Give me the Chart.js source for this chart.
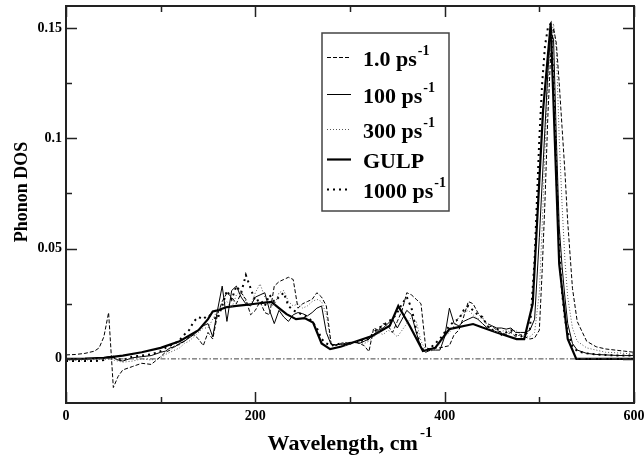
<!DOCTYPE html>
<html>
<head>
<meta charset="utf-8">
<title>Phonon DOS</title>
<script src="https://cdn.jsdelivr.net/npm/chart.js@4.4.1/dist/chart.umd.min.js"></script>
<style>
  html, body { margin: 0; padding: 0; background: #fff; overflow: hidden; }
  #wrap { position: relative; width: 644px; height: 455px; }
</style>
</head>
<body>
<div id="wrap"><canvas id="dosChart"></canvas></div>
<script>
// x positions (cm^-1) shared by the four thermostat curves
const wavenumber = [
  0, 10, 20, 30, 35, 40, 45, 50, 55, 60, 70, 80, 90,
  100, 105, 110, 115, 120, 125, 130, 135, 140, 145,
  150, 155, 160, 165, 170, 175, 180, 185, 190, 195,
  200, 205, 210, 215, 220, 225, 230, 235, 240, 245,
  250, 255, 260, 265, 270, 275, 280, 285, 290, 295,
  300, 305, 310, 315, 320, 325, 330, 335, 340, 345,
  350, 355, 360, 365, 370, 375, 380, 385, 390, 395,
  400, 405, 410, 415, 420, 425, 430, 435, 440, 445,
  450, 455, 460, 465, 470, 475, 480, 485, 490, 495,
  500, 503, 506, 509, 512, 515, 518, 521, 524, 527,
  530, 535, 540, 550, 560, 570, 580, 590, 600
];

// 1.0 ps^-1
const dos1 = [
  0.0018, 0.0020, 0.0025, 0.0035, 0.0050, 0.0100, 0.0210, -0.0130, -0.0080, -0.0050, -0.0035, -0.0020, -0.0025,
  0.0010, 0.0030, 0.0040, 0.0060, 0.0065, 0.0080, 0.0100, 0.0110, 0.0090, 0.0060,
  0.0120, 0.0090, 0.0200, 0.0260, 0.0300, 0.0280, 0.0250, 0.0300, 0.0270, 0.0200,
  0.0220, 0.0260, 0.0210, 0.0200, 0.0330, 0.0350, 0.0360, 0.0370, 0.0360, 0.0230,
  0.0250, 0.0260, 0.0270, 0.0300, 0.0280, 0.0240, 0.0070, 0.0060, 0.0070, 0.0075,
  0.0065, 0.0080, 0.0070, 0.0060, 0.0033, 0.0140, 0.0130, 0.0160, 0.0150, 0.0120,
  0.0170, 0.0220, 0.0300, 0.0290, 0.0270, 0.0250, 0.0050, 0.0045, 0.0050, 0.0050,
  0.0055, 0.0060, 0.0110, 0.0130, 0.0190, 0.0260, 0.0250, 0.0210, 0.0180, 0.0160,
  0.0150, 0.0130, 0.0120, 0.0110, 0.0120, 0.0100, 0.0110, 0.0100, 0.0090, 0.0095,
  0.0130, 0.0400, 0.0720, 0.1100, 0.1380, 0.1500, 0.1430, 0.1250, 0.1050, 0.0850,
  0.0620, 0.0320, 0.0170, 0.0080, 0.0055, 0.0045, 0.0040, 0.0035, 0.0030
];

// 100 ps^-1
const dos100 = [
  0.0000, 0.0000, 0.0000, 0.0002, 0.0003, 0.0005, 0.0010, 0.0005, -0.0005, -0.0010, 0.0005, 0.0010, 0.0015,
  0.0030, 0.0035, 0.0050, 0.0055, 0.0070, 0.0080, 0.0095, 0.0110, 0.0130, 0.0150,
  0.0160, 0.0100, 0.0220, 0.0330, 0.0170, 0.0310, 0.0330, 0.0280, 0.0250, 0.0240,
  0.0280, 0.0290, 0.0300, 0.0220, 0.0160, 0.0220, 0.0190, 0.0170, 0.0200, 0.0210,
  0.0205, 0.0195, 0.0210, 0.0230, 0.0240, 0.0120, 0.0065, 0.0065, 0.0065, 0.0070,
  0.0075, 0.0075, 0.0070, 0.0080, 0.0090, 0.0110, 0.0130, 0.0140, 0.0160, 0.0180,
  0.0140, 0.0180, 0.0220, 0.0200, 0.0120, 0.0050, 0.0030, 0.0040, 0.0040, 0.0040,
  0.0100, 0.0230, 0.0160, 0.0150, 0.0170, 0.0180, 0.0190, 0.0180, 0.0160, 0.0140,
  0.0150, 0.0140, 0.0140, 0.0135, 0.0140, 0.0120, 0.0120, 0.0120, 0.0130, 0.0180,
  0.0550, 0.0800, 0.1050, 0.1300, 0.1480, 0.1450, 0.1000, 0.0600, 0.0420, 0.0280,
  0.0160, 0.0070, 0.0040, 0.0025, 0.0020, 0.0018, 0.0016, 0.0015, 0.0015
];

// 300 ps^-1
const dos300 = [
  -0.0005, -0.0005, -0.0005, -0.0003, -0.0002, 0.0000, 0.0000, -0.0005, -0.0010, -0.0015, -0.0010, 0.0000, -0.0005,
  0.0005, 0.0020, 0.0030, 0.0040, 0.0050, 0.0070, 0.0080, 0.0100, 0.0120, 0.0140,
  0.0140, 0.0180, 0.0220, 0.0240, 0.0260, 0.0230, 0.0290, 0.0310, 0.0260, 0.0240,
  0.0300, 0.0340, 0.0280, 0.0250, 0.0240, 0.0300, 0.0310, 0.0260, 0.0240, 0.0250,
  0.0230, 0.0240, 0.0260, 0.0270, 0.0260, 0.0200, 0.0070, 0.0060, 0.0065, 0.0060,
  0.0070, 0.0080, 0.0075, 0.0070, 0.0080, 0.0100, 0.0120, 0.0110, 0.0130, 0.0120,
  0.0100, 0.0130, 0.0160, 0.0190, 0.0170, 0.0080, 0.0040, 0.0035, 0.0045, 0.0070,
  0.0100, 0.0120, 0.0150, 0.0190, 0.0210, 0.0220, 0.0200, 0.0180, 0.0190, 0.0150,
  0.0130, 0.0120, 0.0125, 0.0130, 0.0120, 0.0130, 0.0110, 0.0105, 0.0100, 0.0120,
  0.0300, 0.0600, 0.0950, 0.1250, 0.1450, 0.1520, 0.1400, 0.1000, 0.0700, 0.0450,
  0.0280, 0.0140, 0.0080, 0.0050, 0.0040, 0.0030, 0.0028, 0.0025, 0.0022
];

// 1000 ps^-1
const dos1000 = [
  -0.0010, -0.0010, -0.0010, -0.0010, -0.0008, -0.0005, 0.0005, 0.0010, 0.0000, -0.0005, 0.0010, 0.0015, 0.0020,
  0.0035, 0.0050, 0.0060, 0.0070, 0.0085, 0.0110, 0.0130, 0.0170, 0.0190, 0.0180,
  0.0200, 0.0190, 0.0180, 0.0240, 0.0310, 0.0270, 0.0330, 0.0300, 0.0380, 0.0320,
  0.0260, 0.0270, 0.0240, 0.0290, 0.0260, 0.0280, 0.0300, 0.0240, 0.0220, 0.0210,
  0.0200, 0.0190, 0.0170, 0.0140, 0.0090, 0.0070, 0.0060, 0.0065, 0.0070, 0.0065,
  0.0070, 0.0075, 0.0080, 0.0085, 0.0090, 0.0120, 0.0140, 0.0150, 0.0170, 0.0180,
  0.0210, 0.0250, 0.0280, 0.0230, 0.0130, 0.0050, 0.0035, 0.0050, 0.0070, 0.0090,
  0.0120, 0.0150, 0.0170, 0.0180, 0.0220, 0.0240, 0.0220, 0.0200, 0.0190, 0.0150,
  0.0130, 0.0140, 0.0110, 0.0120, 0.0130, 0.0110, 0.0100, 0.0110, 0.0130, 0.0450,
  0.1000, 0.1250, 0.1420, 0.1500, 0.1520, 0.1250, 0.0850, 0.0500, 0.0300, 0.0180,
  0.0120, 0.0060, 0.0035, 0.0025, 0.0020, 0.0018, 0.0016, 0.0015, 0.0015
];

// GULP reference curve (its own, coarser sampling)
const gulpX = [
  0, 20, 40, 60, 80, 100, 120, 140, 150, 155,
  160, 170, 180, 190, 200, 210, 217, 225, 233, 243,
  252, 261, 270, 279, 290, 303, 324, 342, 351, 363,
  377, 390, 405, 430, 440, 455, 476, 484, 493, 504,
  512, 521, 530, 539, 560, 600
];
const gulpY = [
  0.0000, 0.0001, 0.0005, 0.0015, 0.0030, 0.0050, 0.0080, 0.0130, 0.0180, 0.0215,
  0.0220, 0.0235, 0.0240, 0.0245, 0.0250, 0.0255, 0.0258, 0.0230, 0.0203, 0.0180,
  0.0185, 0.0165, 0.0070, 0.0044, 0.0055, 0.0074, 0.0105, 0.0150, 0.0240, 0.0150,
  0.0036, 0.0050, 0.0135, 0.0158, 0.0142, 0.0120, 0.0090, 0.0090, 0.0250, 0.1130,
  0.1520, 0.0430, 0.0090, 0.0000, 0.0000, 0.0000
];

// axis ticks
const xMajor = [0, 200, 400, 600];
const xMinor = [100, 300, 500];
const yMajor = [0, 0.05, 0.1, 0.15];
const yMinor = [0.025, 0.075, 0.125];

// legend text
const legendNames = ['1.0 ps', '100 ps', '300 ps', 'GULP', '1000 ps'];
const legendSup = ['-1', '-1', '-1', '', '-1'];

function pairs(xs, ys) {
    return xs.map((x, i) => ({ x: x, y: ys[i] }));
}

const FONT = '"Liberation Serif", "Times New Roman", serif';
Chart.defaults.font.family = FONT;

// frame and inward tick marks on all four sides
const axisFrame = {
    id: 'axisFrame',
    afterDatasetsDraw(chart) {
        const { ctx, chartArea: a, scales: { x, y } } = chart;
        ctx.save();
        ctx.strokeStyle = '#222';
        ctx.lineWidth = 1.5;
        ctx.beginPath();
        const xt = (vals, len) => vals.forEach(v => {
            const px = Math.round(x.getPixelForValue(v)) + 0.5;
            ctx.moveTo(px, a.bottom); ctx.lineTo(px, a.bottom - len);
            ctx.moveTo(px, a.top); ctx.lineTo(px, a.top + len);
        });
        const yt = (vals, len) => vals.forEach(v => {
            const py = Math.round(y.getPixelForValue(v)) + 0.5;
            ctx.moveTo(a.left, py); ctx.lineTo(a.left + len, py);
            ctx.moveTo(a.right, py); ctx.lineTo(a.right - len, py);
        });
        xt(xMajor, 11); xt(xMinor, 6);
        yt(yMajor, 11); yt(yMinor, 6);
        ctx.stroke();
        ctx.lineWidth = 2;
        ctx.strokeRect(a.left, a.top, a.right - a.left, a.bottom - a.top);
        ctx.restore();
    }
};

// legend box with superscripts
const legendBox = {
    id: 'legendBox',
    afterDraw(chart) {
        const ctx = chart.ctx;
        const rows = [57, 94, 129, 159, 189];
        ctx.save();
        ctx.fillStyle = '#fff';
        ctx.fillRect(322, 33, 127, 178);
        ctx.strokeStyle = '#444';
        ctx.lineWidth = 1.5;
        ctx.strokeRect(322, 33, 127, 178);
        legendNames.forEach((name, i) => {
            const ds = chart.data.datasets[i + 1];
            const ry = rows[i];
            ctx.beginPath();
            ctx.setLineDash(ds.borderDash || []);
            ctx.lineWidth = ds.borderWidth;
            ctx.strokeStyle = ds.borderColor;
            ctx.moveTo(327, ry + 0.5);
            ctx.lineTo(351, ry + 0.5);
            ctx.stroke();
            ctx.setLineDash([]);
            ctx.fillStyle = '#000';
            ctx.textAlign = 'left';
            ctx.textBaseline = 'alphabetic';
            ctx.font = 'bold 22px ' + FONT;
            ctx.fillText(name, 363, ry + 9);
            if (legendSup[i]) {
                const w = ctx.measureText(name).width;
                ctx.font = 'bold 14px ' + FONT;
                ctx.fillText(legendSup[i], 363 + w + 1, ry - 2);
            }
        });
        ctx.restore();
    }
};

// axis titles (x title carries a superscript)
const axisTitles = {
    id: 'axisTitles',
    afterDraw(chart) {
        const { ctx, chartArea: a } = chart;
        ctx.save();
        ctx.fillStyle = '#000';
        ctx.textBaseline = 'alphabetic';
        ctx.textAlign = 'left';
        const main = 'Wavelength, cm';
        ctx.font = 'bold 22px ' + FONT;
        const w = ctx.measureText(main).width;
        ctx.font = 'bold 15px ' + FONT;
        const ws = ctx.measureText('-1').width;
        const x0 = (a.left + a.right) / 2 - (w + 2 + ws) / 2;
        ctx.font = 'bold 22px ' + FONT;
        ctx.fillText(main, x0, 450);
        ctx.font = 'bold 15px ' + FONT;
        ctx.fillText('-1', x0 + w + 2, 437);

        ctx.translate(27, 192);
        ctx.rotate(-Math.PI / 2);
        ctx.textAlign = 'center';
        ctx.font = 'bold 18px ' + FONT;
        ctx.fillText('Phonon DOS', 0, 0);
        ctx.restore();
    }
};

document.addEventListener('DOMContentLoaded', function () {
    const ctx = document.getElementById('dosChart').getContext('2d');

    const datasets = [
        { label: 'zero', data: [{ x: 0, y: 0 }, { x: 600, y: 0 }], borderColor: '#444', borderWidth: 1, borderDash: [5, 2, 1.5, 2] },
        { label: '1.0 ps-1', data: pairs(wavenumber, dos1), borderColor: '#000', borderWidth: 1, borderDash: [4, 2] },
        { label: '100 ps-1', data: pairs(wavenumber, dos100), borderColor: '#000', borderWidth: 1 },
        { label: '300 ps-1', data: pairs(wavenumber, dos300), borderColor: '#555', borderWidth: 1, borderDash: [1, 2] },
        { label: 'GULP', data: pairs(gulpX, gulpY), borderColor: '#000', borderWidth: 2.2 },
        { label: '1000 ps-1', data: pairs(wavenumber, dos1000), borderColor: '#000', borderWidth: 2, borderDash: [2, 4] }
    ];

    new Chart(ctx, {
        type: 'line',
        data: { datasets: datasets },
        options: {
            animation: false,
            responsive: true,
            maintainAspectRatio: false,
            layout: { padding: { top: 6, left: 0, right: 0, bottom: 0 } },
            elements: { point: { radius: 0 }, line: { tension: 0, fill: false } },
            plugins: { legend: { display: false }, tooltip: { enabled: false } },
            scales: {
                x: {
                    type: 'linear',
                    min: 0,
                    max: 600,
                    grid: { display: false, drawTicks: false },
                    border: { display: false },
                    ticks: {
                        stepSize: 100,
                        padding: 5,
                        autoSkip: false,
                        maxRotation: 0,
                        color: '#000',
                        font: { size: 14, weight: 'bold' },
                        callback: v => xMajor.includes(v) ? String(v) : ''
                    },
                    afterFit(scale) {
                        scale.height = 52;
                        // let the "600" label run to the canvas edge as in the original
                        scale.paddingRight = 10;
                        scale.paddingLeft = 0;
                    }
                },
                y: {
                    type: 'linear',
                    min: -0.02,
                    max: 0.16,
                    grid: { display: false, drawTicks: false },
                    border: { display: false },
                    ticks: {
                        stepSize: 0.025,
                        includeBounds: false,
                        padding: 4,
                        autoSkip: false,
                        color: '#000',
                        font: { size: 14, weight: 'bold' },
                        callback: v => {
                            const r = Math.round(v * 1000) / 1000;
                            return yMajor.includes(r) ? String(r) : '';
                        }
                    },
                    afterFit(scale) {
                        scale.width = 66;
                        scale.paddingTop = 0;
                        scale.paddingBottom = 0;
                    }
                }
            }
        },
        plugins: [axisFrame, legendBox, axisTitles]
    });
});
</script>
</body>
</html>
